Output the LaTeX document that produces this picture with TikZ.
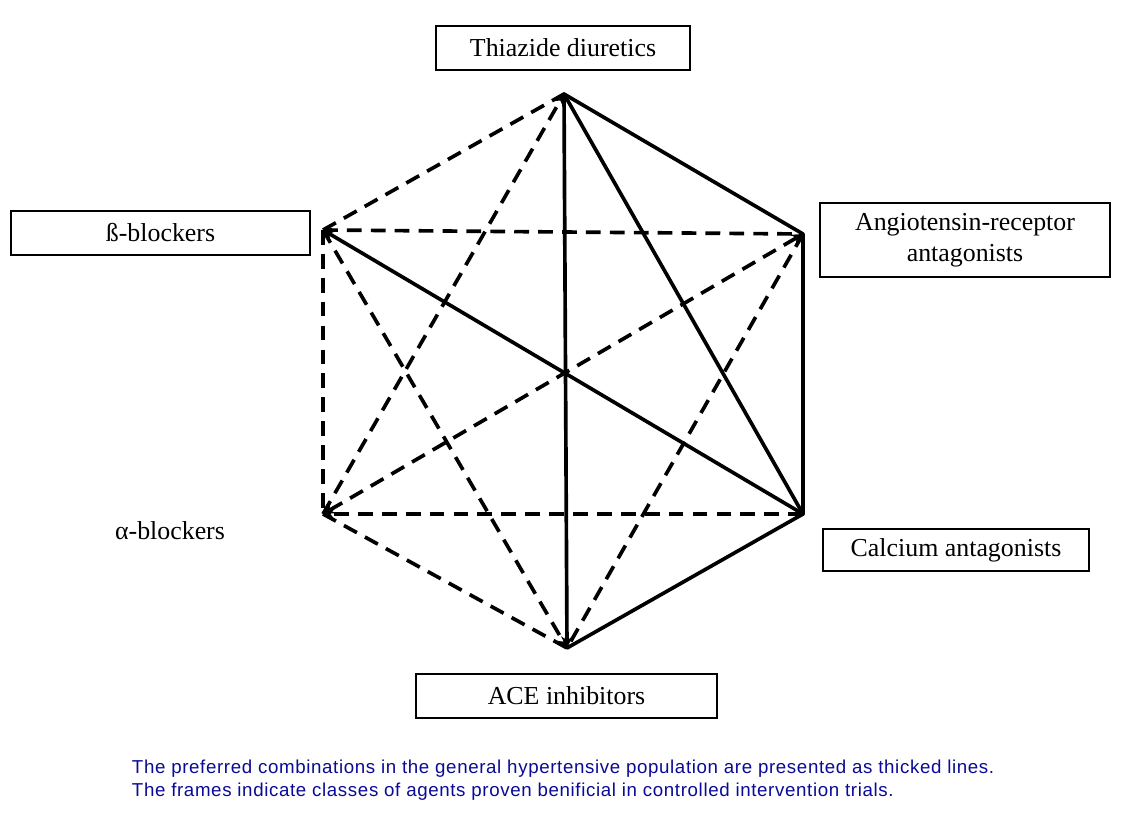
\documentclass[tikz,border=0pt]{standalone}
\usepackage{fontspec}
\setmainfont{Liberation Serif}
\newfontfamily\capfont[LetterSpace=3.4]{Liberation Sans}
\usetikzlibrary{arrows}
\definecolor{capblue}{RGB}{10,10,150}

\begin{document}
\begin{tikzpicture}[x=0.025cm,y=-0.025cm]
\tikzstyle{drug} = [rectangle, draw=black, line width=1pt, text centered, align=center, inner sep=0pt, font=\fontsize{18.4}{22}\selectfont]
\tikzstyle{plain} = [line width=2.6pt, line cap=round, line join=round]
\tikzstyle{dashedline} = [line width=2.6pt, dash pattern=on 10.5pt off 6.5pt]
\tikzstyle{arrow} = [->,>=stealth]

\useasboundingbox (0,0) rectangle (1129,821);

% hexagon corners
\coordinate (v1) at (564,94);
\coordinate (v2) at (803,234);
\coordinate (v3) at (803,514);
\coordinate (v4) at (567,648);
\coordinate (v5) at (323,514);
\coordinate (v6) at (323,230);

% drug classes
\node [drug, minimum width=6.35cm, minimum height=1.1cm] (thz) at (563,48) {Thiazide diuretics};
\node [drug, minimum width=7.475cm, minimum height=1.1cm] (beta) at (160.5,233) {ß-blockers};
\node [drug, minimum width=7.25cm, minimum height=1.85cm] (arb) at (965,240) {Angiotensin-receptor\\antagonists};
\node [font=\fontsize{18.4}{22}\selectfont] (alpha) at (170,531) {α-blockers};
\node [drug, minimum width=6.65cm, minimum height=1.05cm] (cca) at (956,550) {Calcium antagonists};
\node [drug, minimum width=7.525cm, minimum height=1.1cm] (ace) at (566.5,696) {ACE inhibitors};

% dashed combinations
\draw [dashedline] (v6) -- (v2);
\draw [dashedline] (v6) -- (v1);
\draw [dashedline] (v6) -- (v5);
\draw [dashedline, arrow] (v6) -- (v4);
\draw [dashedline, arrow] (v5) -- (v1);
\draw [dashedline, <->, >=stealth] (v5) -- (v2);
\draw [dashedline] (v2) -- (v4);
\draw [dashedline, arrow] (v3) -- (v5);
\draw [dashedline] (v5) -- (v4);

% preferred combinations
\draw [plain] (v1) -- (v2) -- (v3) -- (v4);
\draw [plain] (v1) -- (v3);
\draw [plain, arrow] (v1) -- (v4);
\draw [plain, arrow] (v3) -- (v6);

\node [anchor=west, align=left, text=capblue, font=\capfont\fontsize{13.3}{16.3}\selectfont] (note) at (127,780) {The preferred combinations in the general hypertensive population are presented as thicked lines.\\The frames indicate classes of agents proven benificial in controlled intervention trials.};
\end{tikzpicture}
\end{document}
